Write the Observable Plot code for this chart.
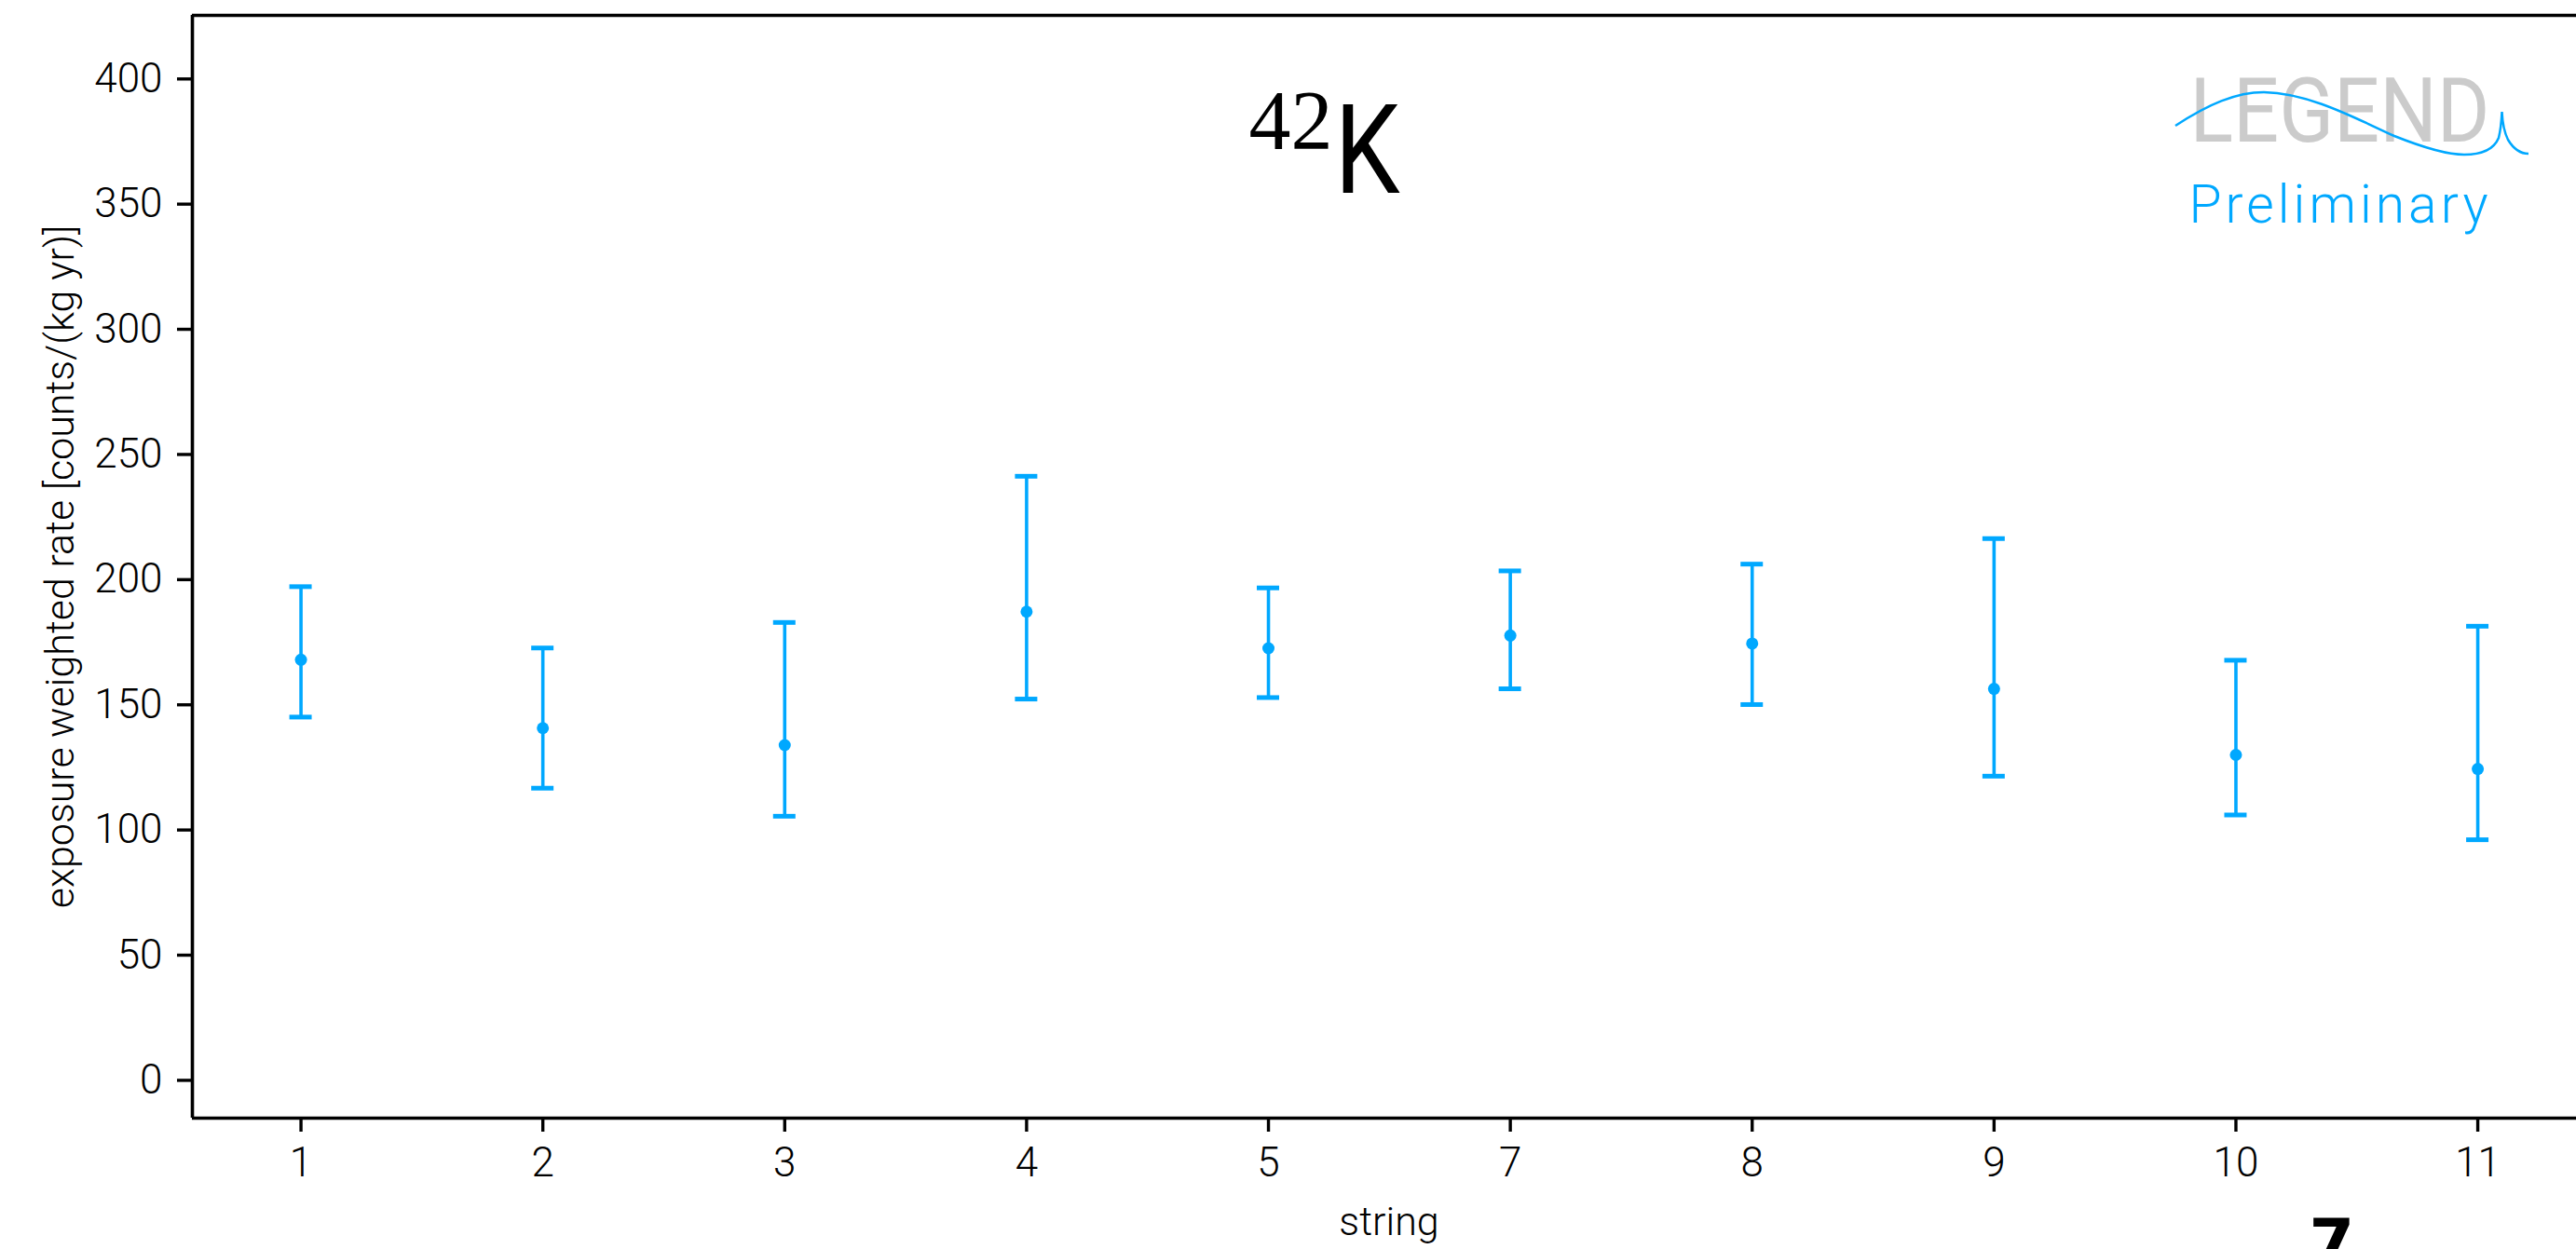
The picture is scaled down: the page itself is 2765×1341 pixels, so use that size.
<!DOCTYPE html>
<html>
<head>
<meta charset="utf-8">
<script src="https://cdn.jsdelivr.net/npm/d3@7"></script>
<script src="https://cdn.jsdelivr.net/npm/@observablehq/plot@0.6"></script>
<style>
  html, body { margin: 0; padding: 0; background: #fff; overflow: hidden; }
  #chart svg { display: block; }
</style>
</head>
<body>
<div id="chart"></div>
<script>
// ---- data ----
const strings = ["1", "2", "3", "4", "5", "7", "8", "9", "10", "11"];
const rate    = [168.0, 140.7, 133.9, 187.2, 172.6, 177.7, 174.5, 156.4, 130.0, 124.4];
const upper   = [197.2, 172.7, 182.9, 241.3, 196.7, 203.5, 206.2, 216.4, 167.8, 181.4];
const lower   = [145.1, 116.7, 105.5, 152.3, 152.9, 156.4, 150.1, 121.5, 106.0, 96.1];
const yTicks  = [0, 50, 100, 150, 200, 250, 300, 350, 400];
const yLabel  = "exposure weighted rate [counts/(kg yr)]";
const xLabel  = "string";
const isoMass = "42";
const isoSym  = "K";
const logoText = "LEGEND";
const prelimText = "Preliminary";
const strayText = "7";

// ---- build table ----
const data = strings.map((s, i) => ({i, s, rate: rate[i], hi: upper[i], lo: lower[i]}));

// ---- layout ----
const W = 2765, H = 1341;
const mL = 206, mT = 16, mB = 141, mR = 0;
const xDomain = [-0.449, 9.408];
const yDomain = [-15.1, 425.4];
const blue = "#00a8ff";
const font = "Roboto";

const plot = Plot.plot({
  width: W,
  height: H,
  marginLeft: mL, marginTop: mT, marginBottom: mB, marginRight: mR,
  style: {fontFamily: font, fontWeight: 300, background: "#fff", color: "#000", overflow: "hidden"},
  x: {type: "linear", domain: xDomain},
  y: {type: "linear", domain: yDomain},
  marks: [
    // error bars
    Plot.ruleX(data, {x: "i", y1: "lo", y2: "hi", stroke: blue, strokeWidth: 3.6}),
    Plot.ruleY(data, {y: "hi", x1: "i", x2: "i", insetLeft: -12, insetRight: -12, stroke: blue, strokeWidth: 5}),
    Plot.ruleY(data, {y: "lo", x1: "i", x2: "i", insetLeft: -12, insetRight: -12, stroke: blue, strokeWidth: 5}),
    Plot.dot(data, {x: "i", y: "rate", r: 6.5, fill: blue, stroke: null}),
    // frame (left, top, bottom spines)
    Plot.ruleX([xDomain[0]], {stroke: "#000", strokeWidth: 3.6}),
    Plot.ruleY([yDomain[0], yDomain[1]], {stroke: "#000", strokeWidth: 3.6}),
    // axes
    Plot.axisY({ticks: yTicks, tickSize: 16, tickPadding: 16, fontSize: 44, fontWeight: 300, strokeWidth: 3.4, label: null}),
    Plot.axisX({ticks: d3.range(strings.length), tickFormat: i => strings[i], tickSize: 15, tickPadding: 16,
                fontSize: 44, fontWeight: 300, strokeWidth: 3.4, label: null}),
    // axis labels
    Plot.text([yLabel], {text: d => d, frameAnchor: "left", rotate: -90, dx: -141, fontSize: 43, fontWeight: 300,
                         textAnchor: "middle", lineAnchor: "middle", fill: "#000"}),
    Plot.text([xLabel], {text: d => d, frameAnchor: "bottom", dx: 5, dy: 95, fontSize: 43, fontWeight: 300,
                         lineAnchor: "top", fill: "#000"}),
    // title 42K
    Plot.text([isoMass], {text: d => d, frameAnchor: "top-left", dx: 1224, dy: 143.3, textAnchor: "end", lineAnchor: "bottom",
                          fontFamily: "Liberation Serif", fontWeight: 400, fontSize: 90, fill: "#000"}),
    Plot.text([isoSym], {text: d => d, frameAnchor: "top-left", dx: 1226, dy: 190.7, textAnchor: "start", lineAnchor: "bottom",
                         fontFamily: font, fontWeight: 400, fontSize: 134, fill: "#000"}),
    // logo
    Plot.text([logoText], {text: d => d, frameAnchor: "top-left", dx: 2350 - mL, dy: 151.7 - mT, textAnchor: "start", lineAnchor: "bottom",
                           fontFamily: font, fontWeight: 400, fontSize: 96, fill: "#cbcbcb"}),
    Plot.text([prelimText], {text: d => d, frameAnchor: "top-left", dx: 2349 - mL, dy: 238.3 - mT, textAnchor: "start", lineAnchor: "bottom",
                             fontFamily: font, fontWeight: 300, fontSize: 57, fill: blue}),
    // stray glyph at the bottom edge
    Plot.text([strayText], {text: d => d, frameAnchor: "bottom-left", dx: 2478 - mL, dy: 108, textAnchor: "start", lineAnchor: "top",
                            fontFamily: "DejaVu Sans", fontWeight: 700, fontSize: 70, fill: "#000"})
  ]
});

// text width adjustments to match the reference glyph extents
const svg = d3.select(plot);
const fit = (str, len, adjust) => svg.selectAll("text")
  .filter(function() { return this.textContent === str && this.children.length === 0; })
  .attr("textLength", len).attr("lengthAdjust", adjust);
fit(logoText, 322, "spacingAndGlyphs");
fit(prelimText, 321, "spacing");
fit(isoSym, 70, "spacingAndGlyphs");

// logo wave decoration
svg.append("path")
  .attr("d", "M2335,135 C2370,112 2400,99 2430,99 C2480,100 2530,128 2570,146 C2600,158 2625,166 2645,166 C2665,166 2677,160 2682,148 C2684,140 2685,130 2685.5,120 C2686,130 2688,142 2692,150 C2698,160 2706,165 2714,165")
  .attr("fill", "none").attr("stroke", blue).attr("stroke-width", 2.5);

document.getElementById("chart").appendChild(plot);
</script>
</body>
</html>
